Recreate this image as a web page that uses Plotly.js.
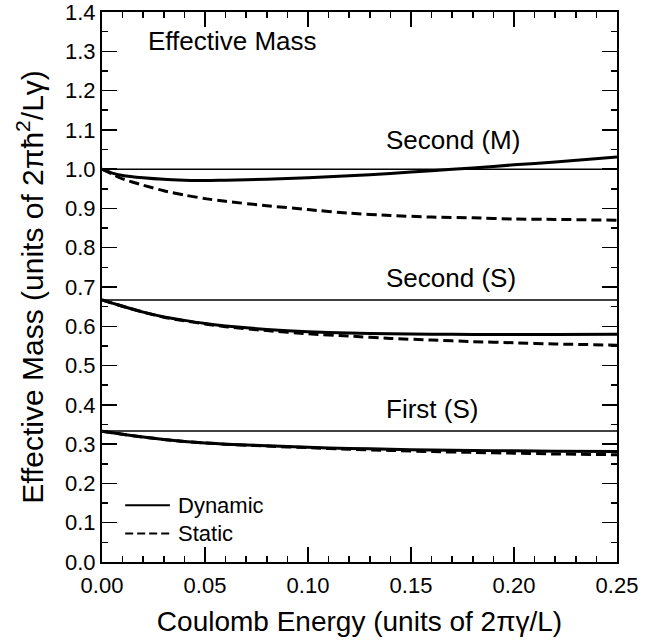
<!DOCTYPE html>
<html>
<head>
<meta charset="utf-8">
<script src="https://cdn.plot.ly/plotly-3.0.1.min.js"></script>
<style>html,body{margin:0;padding:0;background:#fff;}#chart{width:663px;height:643px;}</style>
</head>
<body>
<div id="chart"></div>
<script>
// Coulomb energy grid (units of 2πγ/L)
const energy = [0, 0.005, 0.01, 0.02, 0.03, 0.04, 0.05, 0.06, 0.08, 0.10, 0.12, 0.14, 0.16, 0.18, 0.20, 0.22, 0.25];

// Second (M)
const secondM_dynamic = [1.000, 0.990, 0.984, 0.978, 0.974, 0.972, 0.971, 0.972, 0.974, 0.978, 0.983, 0.989, 0.996, 1.003, 1.011, 1.018, 1.031];
const secondM_static  = [1.000, 0.987, 0.975, 0.959, 0.945, 0.934, 0.925, 0.918, 0.907, 0.897, 0.888, 0.882, 0.878, 0.876, 0.873, 0.872, 0.870];

// Second (S)
const secondS_dynamic = [0.667, 0.659, 0.651, 0.636, 0.624, 0.615, 0.607, 0.601, 0.592, 0.586, 0.583, 0.581, 0.580, 0.579, 0.579, 0.579, 0.580];
const secondS_static  = [0.667, 0.659, 0.651, 0.636, 0.623, 0.614, 0.606, 0.599, 0.589, 0.581, 0.575, 0.569, 0.565, 0.561, 0.558, 0.555, 0.552];

// First (S)
const firstS_dynamic = [0.333, 0.329, 0.325, 0.318, 0.312, 0.307, 0.303, 0.300, 0.296, 0.292, 0.289, 0.287, 0.285, 0.284, 0.283, 0.282, 0.281];
const firstS_static  = [0.333, 0.329, 0.325, 0.318, 0.312, 0.307, 0.303, 0.300, 0.295, 0.291, 0.287, 0.284, 0.281, 0.279, 0.277, 0.275, 0.273];

// Non-interacting reference levels
const refLevels = [1.0, 2/3, 1/3];
const refRange = [0, 0.25];

const curveLabels = ["Second (M)", "Second (S)", "First (S)"];
const legendLabels = ["Dynamic", "Static"];

const traces = [];
refLevels.forEach(v => {
  traces.push({x: refRange, y: [v, v], mode: 'lines', line: {color: '#000', width: 1.5}, showlegend: false, hoverinfo: 'skip'});
});
[[secondM_dynamic, secondM_static], [secondS_dynamic, secondS_static], [firstS_dynamic, firstS_static]].forEach(pair => {
  traces.push({x: energy, y: pair[1], mode: 'lines', line: {color: '#000', width: 3, dash: '10px,5px', shape: 'spline', smoothing: 0.6}, showlegend: false});
  traces.push({x: energy, y: pair[0], mode: 'lines', line: {color: '#000', width: 3, shape: 'spline', smoothing: 0.6}, showlegend: false});
});

const FONT = 'Liberation Sans, Arial, Helvetica, sans-serif';

const annotations = [
  {x: 0.0215, y: 1.325, xref: 'x', yref: 'y', text: 'Effective Mass', showarrow: false, xanchor: 'left', yanchor: 'middle', font: {size: 26}},
  {x: 0.137, y: 1.075, xref: 'x', yref: 'y', text: curveLabels[0], showarrow: false, xanchor: 'left', yanchor: 'middle', font: {size: 26}},
  {x: 0.137, y: 0.724, xref: 'x', yref: 'y', text: curveLabels[1], showarrow: false, xanchor: 'left', yanchor: 'middle', font: {size: 26}},
  {x: 0.137, y: 0.390, xref: 'x', yref: 'y', text: curveLabels[2], showarrow: false, xanchor: 'left', yanchor: 'middle', font: {size: 26}},
  {x: 0.144, y: 0.103, xref: 'paper', yref: 'paper', text: legendLabels[0], showarrow: false, xanchor: 'left', yanchor: 'middle', font: {size: 22}},
  {x: 0.144, y: 0.052, xref: 'paper', yref: 'paper', text: legendLabels[1], showarrow: false, xanchor: 'left', yanchor: 'middle', font: {size: 22}}
];

const shapes = [
  {type: 'line', xref: 'paper', yref: 'paper', x0: 0.045, x1: 0.132, y0: 0.103, y1: 0.103, line: {color: '#000', width: 2}},
  {type: 'line', xref: 'paper', yref: 'paper', x0: 0.045, x1: 0.132, y0: 0.052, y1: 0.052, line: {color: '#000', width: 2, dash: '8px,4px'}}
];

const axisCommon = {
  showgrid: false, zeroline: false, showline: true, linecolor: '#000', linewidth: 2,
  mirror: 'ticks', ticks: 'inside', ticklen: 15, tickwidth: 1.5, tickcolor: '#000',
  tickfont: {size: 22, color: '#000'}, ticklabeloverflow: 'allow'
};

const layout = {
  width: 663, height: 643,
  margin: {l: 102, r: 46, t: 12, b: 81},
  paper_bgcolor: '#fff', plot_bgcolor: '#fff',
  font: {family: FONT, color: '#000'},
  showlegend: false,
  xaxis: Object.assign({}, axisCommon, {
    range: [0, 0.25], dtick: 0.05, tick0: 0, tickformat: '.2f', ticklabelstandoff: 3,
    minor: {dtick: 0.01, ticks: 'inside', ticklen: 6, tickwidth: 1.5, tickcolor: '#000'},
    title: {text: 'Coulomb Energy (units of 2πγ/L)', font: {size: 28}, standoff: 14}
  }),
  yaxis: Object.assign({}, axisCommon, {
    range: [0, 1.4], dtick: 0.1, tick0: 0, tickformat: '.1f',
    minor: {dtick: 0.05, ticks: 'inside', ticklen: 6, tickwidth: 1.5, tickcolor: '#000'},
    title: {text: 'Effective Mass (units of 2πħ<sup>2</sup>/Lγ)', font: {size: 30}, standoff: 13}
  }),
  annotations: annotations,
  shapes: shapes
};

Plotly.newPlot('chart', traces, layout, {displayModeBar: false, staticPlot: true});
</script>
</body>
</html>
